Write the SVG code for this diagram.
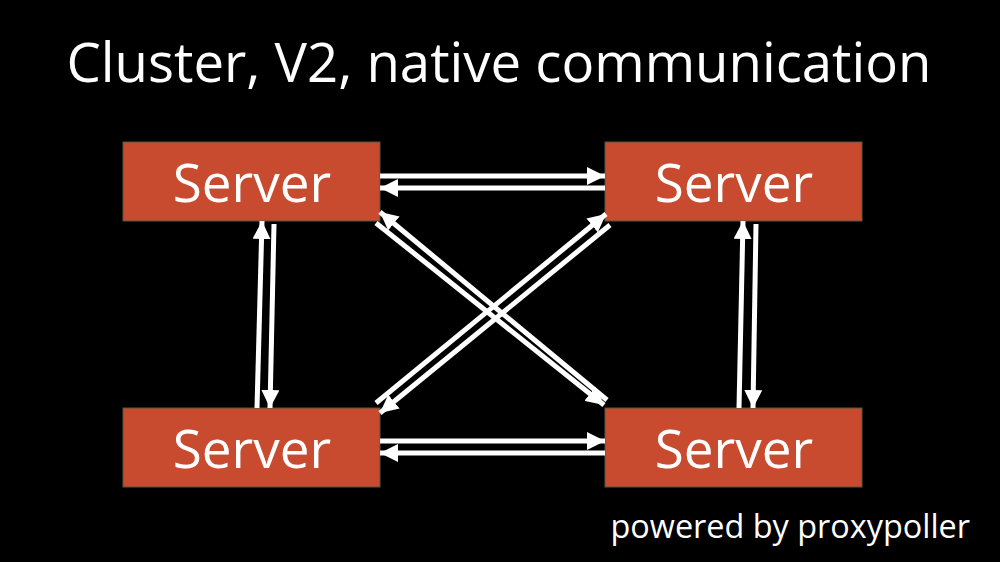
<svg xmlns="http://www.w3.org/2000/svg" width="1000" height="562" viewBox="0 0 1000 562">
<style>
.node rect{fill:#C84B2F;stroke:#4f5a45;stroke-width:1}
.node text{fill:#fff;font-family:"Open Sans","Liberation Sans",sans-serif;font-size:53px;text-anchor:middle}
.conn line{stroke:#fff;stroke-width:5;marker-end:url(#ah)}
.txt{fill:#fff;font-family:"Open Sans","Liberation Sans",sans-serif}
</style>
<defs>
<marker id="ah" markerUnits="userSpaceOnUse" markerWidth="20" markerHeight="18" refX="18" refY="9" orient="auto">
<path d="M0,0 L18,9 L0,18 Z" fill="#fff"/>
</marker>
</defs>
<rect width="1000" height="562" fill="#000"/>
<text class="txt" x="499" y="82" font-size="54.5" text-anchor="middle">Cluster, V2, native communication</text>
<g id="server-tl" class="node"><rect x="123" y="142" width="257" height="79"/><text x="252" y="202">Server</text></g>
<g id="server-tr" class="node"><rect x="605" y="142" width="257" height="79"/><text x="734" y="202">Server</text></g>
<g id="server-bl" class="node"><rect x="123" y="408" width="257" height="79"/><text x="252" y="468">Server</text></g>
<g id="server-br" class="node"><rect x="605" y="408" width="257" height="79"/><text x="734" y="468">Server</text></g>
<g id="connectors" class="conn">
<line x1="380" y1="176" x2="605" y2="176"/>
<line x1="605" y1="188" x2="380" y2="188"/>
<line x1="380" y1="441" x2="605" y2="441"/>
<line x1="605" y1="453" x2="380" y2="453"/>
<line x1="257" y1="408" x2="262" y2="221"/>
<line x1="274" y1="224" x2="270" y2="408"/>
<line x1="739" y1="408" x2="743" y2="221"/>
<line x1="756" y1="224" x2="753" y2="408"/>
<line x1="607" y1="400" x2="380" y2="212"/>
<line x1="376" y1="223" x2="604" y2="405"/>
<line x1="376" y1="403" x2="606" y2="214"/>
<line x1="610" y1="225" x2="380" y2="413"/>
</g>
<text class="txt" x="970" y="538" font-size="32.4" text-anchor="end">powered by proxypoller</text>
</svg>
